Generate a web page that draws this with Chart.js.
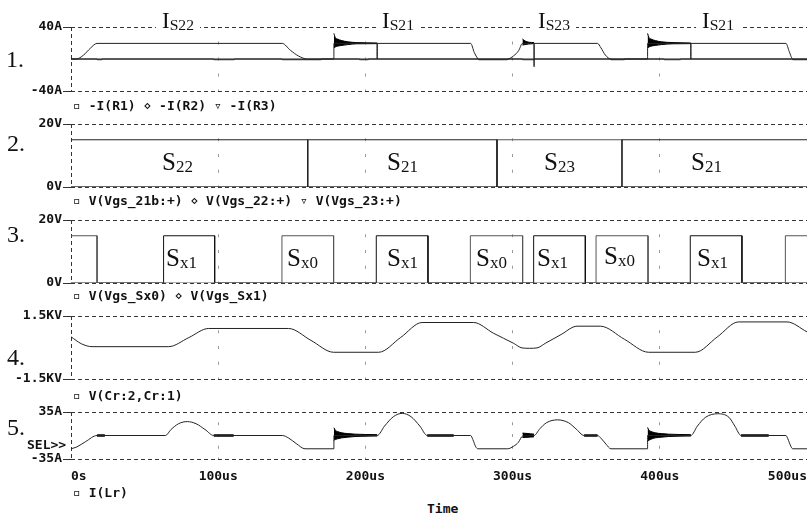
<!DOCTYPE html>
<html lang="en">
<head>
<meta charset="UTF-8">
<meta name="viewport" content="width=device-width, initial-scale=1.0">
<title>Converter switching waveforms</title>
<script src="https://cdn.jsdelivr.net/npm/chart.js@4.4.1/dist/chart.umd.min.js"></script>
<style>
    body {
        margin: 0;
        background: #fff;
        width: 807px;
        height: 518px;
        overflow: hidden;
        position: relative;
    }
    canvas { position: absolute; left: 0; }
    .mono {
        position: absolute;
        font: bold 13px 'DejaVu Sans Mono', monospace;
        line-height: 13px;
        color: #111;
        white-space: pre;
    }
    .mono span { font-weight: normal; }
    .num {
        position: absolute;
        font: 24px 'Liberation Serif', serif;
        line-height: 24px;
        color: #111;
    }
    .tag {
        position: absolute;
        font-family: 'Liberation Serif', serif;
        line-height: 1;
        color: #111;
        white-space: nowrap;
    }
    .tag sub { font-size: 0.68em; vertical-align: -2px; line-height: 1; }
    .top-tag { background: #fff; padding: 0 6px; }
</style>
</head>
<body>
<canvas id="p1" width="807" height="84" style="top:17px"></canvas>
<canvas id="p2" width="807" height="83" style="top:114px"></canvas>
<canvas id="p3" width="807" height="83" style="top:210px"></canvas>
<canvas id="p4" width="807" height="83" style="top:306px"></canvas>
<canvas id="p5" width="807" height="87" style="top:402px"></canvas>

<div class="num" style="left:6px;top:47px">1.</div>
<div class="num" style="left:7px;top:131px">2.</div>
<div class="num" style="left:7px;top:222px">3.</div>
<div class="num" style="left:7px;top:345px">4.</div>
<div class="num" style="left:7px;top:415px">5.</div>

<div class="tag top-tag" style="left:156px;top:9px;font-size:23px">I<sub>S22</sub></div>
<div class="tag top-tag" style="left:376px;top:9px;font-size:23px">I<sub>S21</sub></div>
<div class="tag top-tag" style="left:532px;top:9px;font-size:23px">I<sub>S23</sub></div>
<div class="tag top-tag" style="left:696px;top:9px;font-size:23px">I<sub>S21</sub></div>

<div class="tag" style="left:162px;top:149px;font-size:25px">S<sub>22</sub></div>
<div class="tag" style="left:387px;top:149px;font-size:25px">S<sub>21</sub></div>
<div class="tag" style="left:544px;top:149px;font-size:25px">S<sub>23</sub></div>
<div class="tag" style="left:691px;top:149px;font-size:25px">S<sub>21</sub></div>

<div class="tag" style="left:166px;top:245px;font-size:25px">S<sub>x1</sub></div>
<div class="tag" style="left:287px;top:245px;font-size:25px">S<sub>x0</sub></div>
<div class="tag" style="left:387px;top:245px;font-size:25px">S<sub>x1</sub></div>
<div class="tag" style="left:476px;top:245px;font-size:25px">S<sub>x0</sub></div>
<div class="tag" style="left:537px;top:245px;font-size:25px">S<sub>x1</sub></div>
<div class="tag" style="left:604px;top:243px;font-size:25px">S<sub>x0</sub></div>
<div class="tag" style="left:697px;top:245px;font-size:25px">S<sub>x1</sub></div>

<div class="mono" style="left:27px;top:438px">SEL&gt;&gt;</div>
<div class="mono" style="left:427px;top:502px">Time</div>

<script>
    // ---- time axis (us) ----
    const tMax = 500;
    const xTicks = [0, 100, 200, 300, 400, 500];
    const xTickLabels = ['0s', '100us', '200us', '300us', '400us', '500us'];

    // ---- 1. switch currents (A) ----
    const p1Ticks = [-40, 40];
    const p1TickLabels = ['-40A', '40A'];
    const p1Labels = ['-I(R1)', '-I(R2)', '-I(R3)'];
    const r1T = [0, 17.7, 17.7, 21, 21, 97, 97, 111, 111, 143.5, 143.5, 170, 170, 178.6, 178.6, 208, 208, 208, 271.5, 274, 276.5, 277, 296.5, 296.5, 391.7, 391.7, 421.1, 421.1, 421.1, 485.7, 488, 490.3, 490.3, 500];
    const r1A = [0, 0, -0.9, -0.9, 0, 0, -0.9, -0.9, 0, 0, -0.9, -0.9, 0, 0, 19.5, 19.5, 0, 19.5, 19.5, 8, 0, -0.9, -0.9, 0, 0, 19.5, 19.5, 0, 19.5, 19.5, 9, 0, -0.9, -0.9];
    const r2T = [0, 3.6, 8.6, 13.1, 17.7, 143.5, 149, 154.6, 160.5, 196, 196, 202, 202, 306.7, 306.7, 314.6, 314.6, 403, 403, 414, 414, 500];
    const r2A = [0, 0, 5, 13.4, 19.5, 19.5, 11, 3.7, 0, 0, -0.9, -0.9, 0, 0, -0.9, -0.9, 0, 0, -0.9, -0.9, 0, 0];
    const r3T = [0, 296.5, 300.7, 304.1, 306.7, 314.6, 314.6, 314.6, 357.7, 360, 363, 366.8, 366.8, 376, 376, 500];
    const r3A = [0, 0, 4, 10.4, 19.5, 19.5, -9.6, 19.5, 19.5, 14, 5, 0, -0.9, -0.9, 0, 0];
    // ringing bands (upper / lower envelope)
    const ring1T = [178.6, 179.5, 181, 184, 188, 194, 208];
    const ring1Hi = [32, 27, 25, 23, 21.5, 20.5, 20];
    const ring1Lo = [13.7, 15, 16, 17, 18, 19, 19.2];
    const ring2T = [306.7, 308.5, 311, 314.6];
    const ring2Hi = [25, 22.5, 21, 20.5];
    const ring2Lo = [17.5, 18, 18.8, 19.2];
    const ring3T = [391.7, 392.6, 394, 397, 401, 409, 421.1];
    const ring3Hi = [32, 27, 25, 23, 21.5, 20.5, 20];
    const ring3Lo = [13.7, 15, 16, 17, 18, 19, 19.2];

    // ---- 2. main switch gates (V) ----
    const gateTicks = [0, 20];
    const gateTickLabels = ['0V', '20V'];
    const gateLevel = 15;
    const p2Labels = ['V(Vgs_21b:+)', 'V(Vgs_22:+)', 'V(Vgs_23:+)'];
    const g21On = [160.8, 374.3], g21Off = [289.4, 500];
    const g22On = [0], g22Off = [160.8];
    const g23On = [289.4], g23Off = [374.3];

    // ---- 3. auxiliary gates (V) ----
    const p3Labels = ['V(Vgs_Sx0)', 'V(Vgs_Sx1)'];
    const sx0On = [0, 143.3, 271.3, 356.7, 485.3], sx0Off = [17.7, 178.4, 306.8, 392.0, 500];
    const sx1On = [62.9, 207.4, 314.3, 420.7], sx1Off = [97.6, 242.5, 349.4, 455.8];

    // ---- 4. resonant capacitor voltage (V) ----
    const p4Ticks = [-1500, 1500];
    const p4TickLabels = ['-1.5KV', '1.5KV'];
    const p4Labels = ['V(Cr:2,Cr:1)'];
    const crT = [0, 7, 14.3, 66.3, 80, 93.5, 147.8, 163, 178.4, 209, 224, 238.5, 273.5, 287, 300.7, 306.4, 311.5, 316.6, 322.2, 333, 343.8, 359.6, 376, 392.4, 424.1, 439, 453.5, 486.4, 500];
    const crV = [510, 180, 40, 40, 470, 906, 906, 340, -227, -227, 480, 1190, 1190, 680, 198, -20, -38, -20, 198, 620, 1015, 1015, 390, -227, -227, 500, 1218, 1218, 746];

    // ---- 5. resonant inductor current (A) ----
    const p5Ticks = [-35, 35];
    const p5TickLabels = ['-35A', '35A'];
    const p5Labels = ['I(Lr)'];
    const lrT = [0, 4, 10, 17.7, 64.1, 68, 73, 79, 85, 91, 97, 143.5, 148, 153, 159, 178.6, 178.6, 208, 213, 219, 225, 231, 237, 242, 271.5, 273, 275, 276.5, 296.5, 300.7, 304, 306.7, 314.6, 318.5, 323, 330.5, 338, 343, 348.6, 357.7, 360, 363.5, 366.8, 391.7, 391.7, 421.1, 425.5, 431, 439.3, 447, 451, 455.2, 485.7, 487, 489, 490.3, 500];
    const lrA = [-19.8, -17, -9, 0, 0, 9, 17.5, 20.7, 17.5, 9, 0, 0, -4, -12, -19.8, -19.8, 0, 0, 14, 28, 33, 28, 14, 0, 0, -6, -17, -19.8, -19.8, -16, -10, -1, 0, 10, 19, 23.3, 19, 10, 0, 0, -4, -13, -19.8, -19.8, 0, 0, 14, 27, 32.4, 27, 14, 0, 0, -5, -16, -19.8, -19.8];
    const lrRingAT = [178.6, 179.5, 181, 184, 188, 193, 200, 208];
    const lrRingAHi = [11.6, 8, 6, 4, 2.8, 2, 1.5, 1.2];
    const lrRingALo = [-7, -6, -5, -3.5, -2.5, -1.5, -1, -0.8];
    const lrRingBT = [306.7, 309, 312, 314.6];
    const lrRingBHi = [3.6, 3.2, 2.6, 2];
    const lrRingBLo = [-3, -2.8, -2.4, -2];
    const lrRingCT = [391.7, 392.6, 394, 397, 401, 406, 413, 421.1];
    const lrRingCHi = [12, 8, 6, 4, 2.8, 2, 1.5, 1.2];
    const lrRingCLo = [-9, -7, -5.5, -3.5, -2.5, -1.5, -1, -0.8];
    const lrRippleFrom = [17.7, 97, 242, 348.6, 455.2];
    const lrRippleTo = [23, 110.5, 260, 357.7, 474];

    const legendSyms = ['\u25AB', '\u22C4', '\u25BF'];

    const ink = '#222';
    const axisInk = '#333';
    const dotInk = '#999';
    const frameDash = [4, 3];
    const monoFont = { family: "'DejaVu Sans Mono', monospace", size: 13, weight: 'bold' };

    function series(t, v) {
        return t.map((x, i) => ({ x: x, y: v[i] }));
    }

    function trace(label, t, v, color) {
        return {
            label: label,
            data: series(t, v),
            borderColor: color || ink,
            borderWidth: 1,
            pointRadius: 0,
            fill: false,
            cubicInterpolationMode: 'monotone'
        };
    }

    function ring(t, hi, lo) {
        return [
            { data: series(t, hi), borderColor: '#000', backgroundColor: '#000', borderWidth: 1,
              pointRadius: 0, fill: '+1', cubicInterpolationMode: 'monotone' },
            { data: series(t, lo), borderColor: '#000', borderWidth: 1,
              pointRadius: 0, fill: false, cubicInterpolationMode: 'monotone' }
        ];
    }

    function pulses(label, on, off, color) {
        const pts = [{ x: 0, y: on[0] === 0 ? gateLevel : 0 }];
        on.forEach((t0, i) => {
            if (t0 > 0) {
                pts.push({ x: t0, y: 0 }, { x: t0, y: gateLevel });
            }
            pts.push({ x: off[i], y: gateLevel });
            if (off[i] < tMax) pts.push({ x: off[i], y: 0 });
        });
        if (off[off.length - 1] < tMax) pts.push({ x: tMax, y: 0 });
        return { label: label, data: pts, borderColor: color || ink, borderWidth: 1, pointRadius: 0, fill: false };
    }

    function ripple(from, to) {
        const pts = [];
        from.forEach((t0, i) => {
            pts.push({ x: t0, y: 0 }, { x: to[i], y: 0 }, { x: to[i], y: null });
        });
        return { data: pts, borderColor: '#000', borderWidth: 2.5, pointRadius: 0, fill: false };
    }

    function legend(top, labels) {
        const d = document.createElement('div');
        d.className = 'mono';
        d.style.left = '73px';
        d.style.top = top + 'px';
        d.innerHTML = labels.map((l, i) => '<span>' + legendSyms[i] + '</span> ' + l).join(' ');
        document.body.appendChild(d);
    }

    const tv = c => (c.tick ? c.tick.value : -1);

    function makePanel(id, yTicks, yLabels, datasets, showTime) {
        const canvas = document.getElementById(id);
        const plotH = canvas.height - 10 - (showTime ? 30 : 10);
        const step = plotH / 4;
        return new Chart(canvas, {
            type: 'line',
            data: { datasets: datasets },
            options: {
                responsive: false,
                animation: false,
                events: [],
                layout: { padding: { top: 10, bottom: showTime ? 0 : 10, left: 0, right: 0 } },
                plugins: { legend: { display: false }, tooltip: { enabled: false } },
                scales: {
                    x: {
                        type: 'linear',
                        min: 0,
                        max: tMax,
                        afterBuildTicks: s => { s.ticks = xTicks.map(v => ({ value: v })); },
                        afterFit: s => {
                            s.height = showTime ? 30 : 0;
                            s.paddingLeft = 0;
                            s.paddingRight = 0;
                        },
                        ticks: {
                            display: showTime,
                            align: 'inner',
                            padding: 0,
                            maxRotation: 0,
                            autoSkip: false,
                            color: '#111',
                            font: monoFont,
                            callback: (v, i) => xTickLabels[i]
                        },
                        grid: {
                            drawTicks: true,
                            tickLength: 10,
                            tickColor: 'rgba(0,0,0,0)',
                            color: c => tv(c) === 0 ? axisInk : (tv(c) === tMax ? 'rgba(0,0,0,0)' : dotInk)
                        },
                        border: {
                            display: false,
                            dash: c => tv(c) === 0 ? frameDash : [3, step - 3],
                            dashOffset: c => tv(c) === 0 ? 0 : 1.5
                        }
                    },
                    y: {
                        min: yTicks[0],
                        max: yTicks[1],
                        afterBuildTicks: s => { s.ticks = yTicks.map(v => ({ value: v })); },
                        afterFit: s => { s.width = 71; },
                        ticks: { padding: 1, color: '#111', font: monoFont, callback: (v, i) => yLabels[i] },
                        grid: { color: axisInk, tickLength: 8, tickColor: '#333' },
                        border: { display: false, dash: () => frameDash }
                    }
                }
            }
        });
    }

    // 1. switch currents
    makePanel('p1', p1Ticks, p1TickLabels, [
        trace(p1Labels[0], r1T, r1A),
        trace(p1Labels[1], r2T, r2A),
        trace(p1Labels[2], r3T, r3A),
        ...ring(ring1T, ring1Hi, ring1Lo),
        ...ring(ring2T, ring2Hi, ring2Lo),
        ...ring(ring3T, ring3Hi, ring3Lo)
    ], false);
    legend(99, p1Labels);

    // 2. main switch gates
    makePanel('p2', gateTicks, gateTickLabels, [
        pulses(p2Labels[0], g21On, g21Off),
        pulses(p2Labels[1], g22On, g22Off),
        pulses(p2Labels[2], g23On, g23Off, '#555')
    ], false);
    legend(194, p2Labels);

    // 3. auxiliary gates
    makePanel('p3', gateTicks, gateTickLabels, [
        pulses(p3Labels[0], sx0On, sx0Off, '#555'),
        pulses(p3Labels[1], sx1On, sx1Off, '#111')
    ], false);
    legend(289, p3Labels);

    // 4. resonant capacitor voltage
    makePanel('p4', p4Ticks, p4TickLabels, [
        trace(p4Labels[0], crT, crV)
    ], false);
    legend(389, p4Labels);

    // 5. resonant inductor current
    makePanel('p5', p5Ticks, p5TickLabels, [
        trace(p5Labels[0], lrT, lrA),
        ripple(lrRippleFrom, lrRippleTo),
        ...ring(lrRingAT, lrRingAHi, lrRingALo),
        ...ring(lrRingBT, lrRingBHi, lrRingBLo),
        ...ring(lrRingCT, lrRingCHi, lrRingCLo)
    ], true);
    legend(486, p5Labels);
</script>
</body>
</html>
